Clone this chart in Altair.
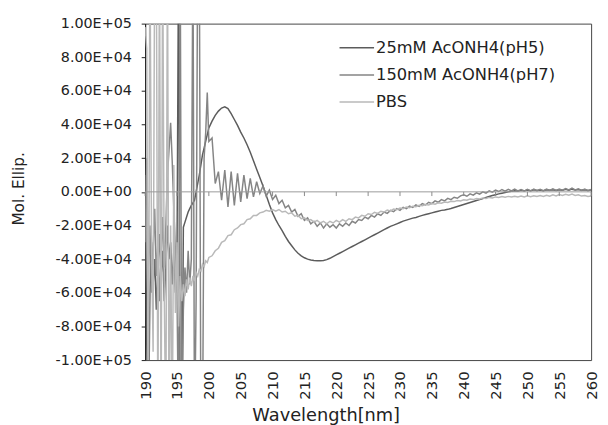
import altair as alt
import pandas as pd

# wavelength sampling (nm)
wl_low = [190 + 0.25 * i for i in range(41)]      # 190.0 .. 200.0
wl_high = [200.5 + 0.5 * i for i in range(120)]   # 200.5 .. 260.0

series_names = ["25mM AcONH4(pH5)", "150mM AcONH4(pH7)", "PBS"]
series_colors = ["#5c5c5c", "#858585", "#b9b9b9"]

# 25mM AcONH4 (pH5)
a_low = [10000, -90000, -150000, -60000, -30000, -55000, -40000, -70000, -45000, -25000,
         -50000, -35000, -65000, -45000, -20000, -40000, -30000, -55000, -35000, -60000,
         -40000, 150000, -150000, -150000, -21000, -18000, -15000, -12000, -10000, -8000,
         -6500, -5000, 0, 5000, 10000, 16000, 22000, 26000, 30000, 34000, 38000]
a_high = [42000, 45500, 48000, 49800, 50500, 49500, 46500, 43000, 39500, 35500,
          32000, 28000, 23500, 18500, 13500, 8500, 3500, -2000, -7500, -12500,
          -16500, -20000, -23000, -26500, -29500, -32000, -34500, -36500, -38000, -39200,
          -40000, -40500, -40800, -41000, -41000, -40800, -40300, -39500, -38500, -37500,
          -36500, -35500, -34500, -33500, -32500, -31500, -30500, -29500, -28500, -27500,
          -26500, -25500, -24500, -23500, -22500, -21500, -20500, -19800, -19000, -18200,
          -17400, -16800, -16200, -15600, -15200, -14600, -14000, -13500, -13000, -12500,
          -12000, -11500, -11000, -10800, -10400, -9900, -9300, -8700, -8100, -7500,
          -6900, -6300, -5700, -5100, -4600, -4000, -3400, -2800, -2200, -1700,
          -1200, -800, -400, 0, 300, 700, 400, 900, 600, 1100,
          700, 1200, 800, 1100, 700, 1200, 900, 1300, 800, 1200,
          900, 1500, 1000, 1600, 1100, 1400, 900, 1300, 800, 1100]

# 150mM AcONH4 (pH7)
b_low = [-30000, 20000, -50000, -20000, -60000, -35000, -10000, -50000, -30000, -65000,
         -40000, -15000, -45000, -20000, 10000, 25000, 41000, 18000, -10000, -35000,
         -60000, -150000, 150000, -150000, -70000, -45000, -60000, -35000, -55000, -40000,
         150000, -150000, -64000, 150000, 150000, -150000, -150000, 20000, 35000, 59000, 30000]
b_high = [32000, 5000, 12000, -5000, 13000, -9000, 12000, -8000, 11000, -6000,
          10000, -4000, 8000, -3000, 6000, -1000, 3500, -2500, 1000, -4500,
          -2000, -7000, -5000, -9500, -8000, -12000, -10500, -14500, -13000, -17000,
          -15500, -19000, -17500, -20500, -18500, -21500, -19000, -21000, -19500, -21500,
          -19000, -20500, -18500, -20000, -17500, -18500, -16500, -17000, -15000, -16000,
          -14000, -15000, -13000, -14000, -12000, -12800, -11000, -11800, -10000, -11000,
          -9200, -10000, -8500, -9300, -7800, -8600, -7000, -7800, -6200, -7000,
          -5400, -6200, -4600, -5400, -3900, -4600, -3200, -3800, -2400, -1800,
          -2600, -1200, -2000, -600, -1400, 0, -800, 600, -200, 1000,
          200, 1400, 400, 1500, 500, 1600, 600, 1400, 400, 1500,
          500, 1700, 700, 1500, 600, 1600, 800, 1800, 900, 1700,
          1000, 2000, 1100, 2200, 1200, 1800, 900, 1600, 700, 1400]

# PBS
p_low = [98000, 85000, -150000, 150000, -30000, -95000, 150000, 150000, -150000, 150000,
         -150000, 150000, -60000, -150000, 150000, -150000, -20000, -150000, 16000, -72000,
         -30000, -80000, -50000, -65000, -55000, -62000, -52000, -58000, -51000, -56000,
         -50000, -53000, -48000, -50000, -46000, -47000, -43000, -44500, -41000, -42000, -39000]
p_high = [-38000, -35000, -33500, -30000, -29000, -26000, -25500, -22500, -21500, -19500,
          -19000, -16500, -16000, -14000, -14000, -12500, -12000, -11000, -11500, -10500,
          -11500, -10500, -12000, -11500, -13000, -12500, -14500, -14000, -16000, -15500,
          -17000, -16500, -18000, -17000, -18500, -17500, -19000, -17500, -18500, -17000,
          -18000, -16500, -17500, -16000, -16500, -15000, -15500, -14000, -14500, -13000,
          -13500, -12200, -12800, -11500, -12000, -10800, -11300, -10200, -10600, -9600,
          -10000, -9000, -9400, -8500, -8800, -8000, -8300, -7500, -7800, -7000,
          -7300, -6500, -6800, -6000, -6300, -5600, -5800, -5100, -5400, -4700,
          -5000, -4300, -4600, -4000, -4200, -3600, -3900, -3300, -3600, -3000,
          -3300, -2800, -3200, -2700, -3100, -2600, -3000, -2500, -3000, -2400,
          -2900, -2300, -2800, -2200, -2700, -2100, -2600, -1800, -2400, -1600,
          -2200, -1400, -2000, -1300, -2100, -1700, -2500, -2200, -2800, -2500]

x_ticks = [190, 195, 200, 205, 210, 215, 220, 225, 230, 235, 240, 245, 250, 255, 260]
y_ticks = [-100000, -80000, -60000, -40000, -20000, 0, 20000, 40000, 60000, 80000, 100000]

rows = []
wl_all = wl_low + wl_high
for name, lo, hi in zip(series_names, [a_low, b_low, p_low], [a_high, b_high, p_high]):
    for w, v in zip(wl_all, lo + hi):
        rows.append({"wl": w, "val": v, "series": name})
df = pd.DataFrame(rows)

FONT = "DejaVu Sans"
x_scale = alt.Scale(domain=[190, 260], nice=False, zero=False)
y_scale = alt.Scale(domain=[-100000, 100000], nice=False, zero=False)

x_axis = alt.Axis(values=x_ticks, title="Wavelength[nm]", labelAngle=-90,
                  labelOverlap=False, labelBound=False,
                  ticks=False, domain=False, grid=False, labelPadding=11,
                  labelFont=FONT, labelFontSize=15, labelColor="#222",
                  titleFont=FONT, titleFontSize=18, titleFontWeight="normal",
                  titleColor="#222", titleX=183, titleY=61, titleAlign="center",
                  titleBaseline="alphabetic", titleAnchor="start")
y_axis = alt.Axis(values=y_ticks, title="Mol. Ellip.", grid=False,
                  labelOverlap=False, labelBound=False,
                  labelExpr="(datum.value < 0 ? '-' : '') + replace(upper(format(abs(datum.value), '.2e')), 'E+', 'E+0')",
                  tickSize=4, tickColor="#222", domainColor="#222",
                  labelPadding=10, labelFont=FONT, labelFontSize=14.5, labelColor="#222",
                  titleFont=FONT, titleFontSize=15.5, titleFontWeight="normal",
                  titleColor="#222", titleX=-123, titleY=167, titleAngle=-90,
                  titleAlign="center", titleBaseline="alphabetic", titleAnchor="start")

lines = alt.Chart(df).mark_line(clip=True, strokeWidth=1.5).encode(
    x=alt.X("wl:Q", scale=x_scale, axis=x_axis),
    y=alt.Y("val:Q", scale=y_scale, axis=y_axis),
    color=alt.Color("series:N",
                    scale=alt.Scale(domain=series_names, range=series_colors),
                    legend=alt.Legend(title=None, orient="none", legendX=196, legendY=6,
                                      symbolType="M-1,0H1", symbolSize=1225,
                                      symbolStrokeWidth=1.6, labelFont=FONT,
                                      labelFontSize=16.5, labelColor="#222", labelLimit=0,
                                      labelOffset=1, rowPadding=0.5, padding=0)),
)

zero_df = pd.DataFrame({"x": [190], "x2": [260], "y": [0]})
zero_line = alt.Chart(zero_df).mark_rule(color="#9a9a9a", strokeWidth=1).encode(
    x=alt.X("x:Q", scale=x_scale, axis=x_axis), x2="x2:Q",
    y=alt.Y("y:Q", scale=y_scale, axis=y_axis)
)
# small tick marks hanging below the zero line at each category tick
tick_df = pd.DataFrame({"wl": x_ticks, "y": [0] * len(x_ticks), "y2": [-2500] * len(x_ticks)})
zero_ticks = alt.Chart(tick_df).mark_rule(color="#8a8a8a", strokeWidth=1).encode(
    x=alt.X("wl:Q", scale=x_scale, axis=x_axis),
    y=alt.Y("y:Q", scale=y_scale, axis=y_axis), y2="y2:Q"
)

chart = alt.layer(lines, zero_line, zero_ticks).properties(
    width=452, height=341,
    autosize=alt.AutoSizeParams(type="none"),
    padding={"left": 139, "top": 13, "right": 9, "bottom": 66},
    background="white",
).configure_view(stroke="#444", strokeWidth=1).configure_axis(labelOverlap=False)

chart.save("out.html", embed_options={"renderer": "svg", "actions": False})
